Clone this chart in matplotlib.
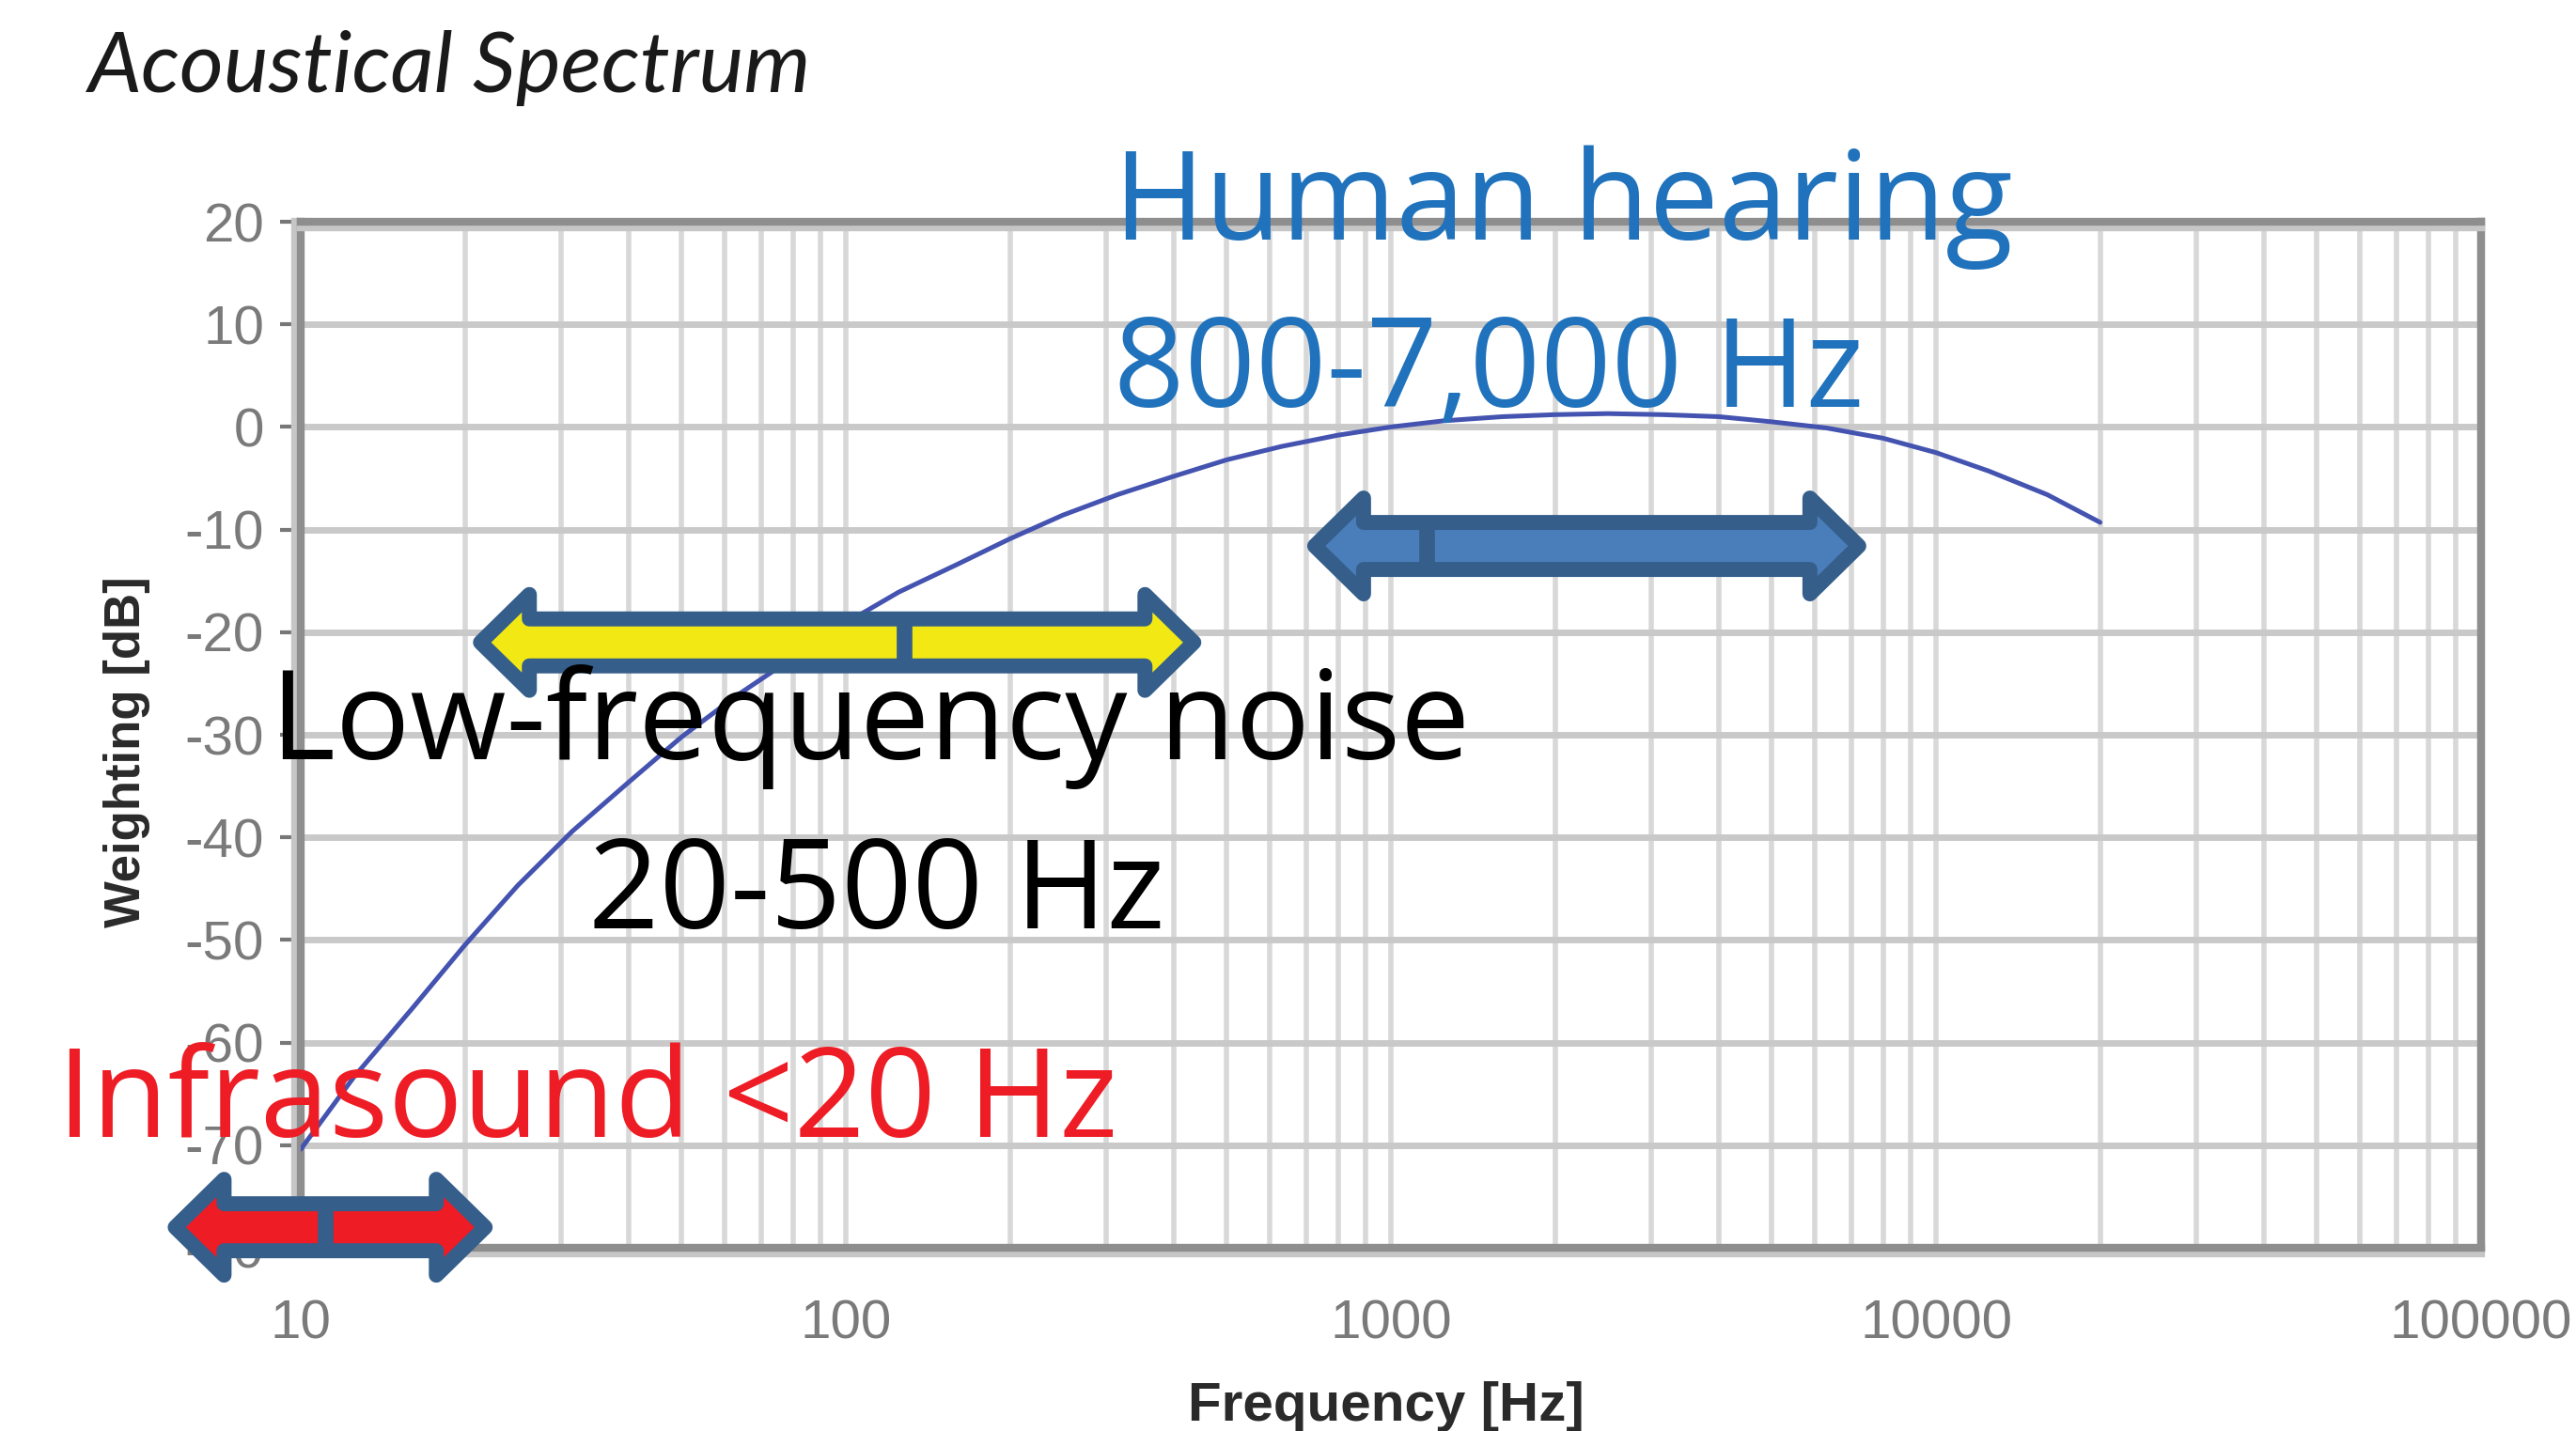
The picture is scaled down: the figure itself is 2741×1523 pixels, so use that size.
import matplotlib
matplotlib.use("Agg")
import matplotlib.pyplot as plt
import matplotlib.patheffects as pe
import numpy as np
from matplotlib.patches import Polygon
from matplotlib.ticker import FixedLocator, LogLocator, NullFormatter

# ---------------- data ----------------
freq_hz = [10, 12.5, 16, 20, 25, 31.5, 40, 50, 63, 80, 100, 125, 160, 200, 250,
           315, 400, 500, 630, 800, 1000, 1250, 1600, 2000, 2500, 3150, 4000,
           5000, 6300, 8000, 10000, 12500, 16000, 20000]
weighting_db = [-70.4, -63.4, -56.7, -50.5, -44.7, -39.4, -34.6, -30.2, -26.2,
                -22.5, -19.1, -16.1, -13.4, -10.9, -8.6, -6.6, -4.8, -3.2, -1.9,
                -0.8, 0.0, 0.6, 1.0, 1.2, 1.3, 1.2, 1.0, 0.5, -0.1, -1.1, -2.5,
                -4.3, -6.6, -9.3]

y_ticks = [20, 10, 0, -10, -20, -30, -40, -50, -60, -70, -80]
x_ticks = [10, 100, 1000, 10000, 100000]
x_tick_labels = ["10", "100", "1000", "10000", "100000"]

band_names = ["Infrasound", "Low-frequency noise", "Human hearing"]
band_start_hz = [5.7, 20.7, 702]
band_end_hz = [22.5, 449, 7450]
band_split_hz = [11.1, 128, 1163]
band_level_db = [-78.0, -21.0, -11.6]
band_fill = ["#ee1c24", "#f2e914", "#4a7ebb"]
band_edge = "#355e8a"

title_text = "Acoustical Spectrum"
x_label = "Frequency [Hz]"
y_label = "Weighting [dB]"
annot_texts = ["Human hearing", "800-7,000 Hz", "Low-frequency noise",
               "20-500 Hz", "Infrasound <20 Hz"]

# ---------------- figure ----------------
W, H = 2741, 1523
fig = plt.figure(figsize=(W / 100, H / 100), dpi=100)
fig.patch.set_facecolor("white")

ax_l, ax_r, ax_t, ax_b = 320, 2640, 236, 1328
ax = fig.add_axes([ax_l / W, 1 - ax_b / H, (ax_r - ax_l) / W, (ax_b - ax_t) / H])
ax.set_xscale("log")
ax.set_xlim(10, 100000)
ax.set_ylim(-80, 20)
ax.set_axisbelow(True)

# grid
ax.xaxis.set_major_locator(FixedLocator(x_ticks))
ax.xaxis.set_minor_locator(LogLocator(base=10, subs=np.arange(2, 10)))
ax.xaxis.set_minor_formatter(NullFormatter())
ax.set_xticks(x_ticks)
ax.set_xticklabels(x_tick_labels)
ax.set_yticks(y_ticks)
ax.set_yticklabels([str(v) for v in y_ticks])
ax.grid(which="both", axis="x", color="#d8d8d8", lw=4)
ax.grid(which="major", axis="y", color="#c9c9c9", lw=5)

for lab in ax.get_xticklabels() + ax.get_yticklabels():
    lab.set_fontfamily("Liberation Sans")
    lab.set_fontsize(42)
    lab.set_color("#7a7a7a")
ax.tick_params(axis="x", which="major", direction="out", length=7, width=3,
               color="#777777", pad=32)
ax.tick_params(axis="x", which="minor", direction="out", length=3, width=2,
               color="#999999")
ax.tick_params(axis="y", which="major", direction="out", length=16, width=3,
               color="#777777", pad=12)

shadow = {"left": (-4.5, 0), "bottom": (0, -4.5), "top": (0, -4.5), "right": (0, 0)}
for side, sp in ax.spines.items():
    sp.set_color("#8e8e8e")
    sp.set_linewidth(6)
    sp.set_path_effects([pe.Stroke(linewidth=6, foreground="#c6c6c6", offset=shadow[side]),
                         pe.Normal()])

# curve
ax.plot(freq_hz, weighting_db, color="#4453b0", lw=3.6, zorder=3,
        solid_capstyle="round", solid_joinstyle="round")

# double-headed band arrows
PX_DEC = (ax_r - ax_l) / 4.0
PX_DB = (ax_b - ax_t) / 100.0


def arrow_vertices(x0, x1, y):
    tip_in = 8 / PX_DEC
    head = 52 / PX_DEC
    bh = 25 / PX_DB
    hh = 51 / PX_DB
    a = np.log10(x0) + tip_in
    b = np.log10(x1) - tip_in
    pts = [(a, y), (a + head, y + hh), (a + head, y + bh), (b - head, y + bh),
           (b - head, y + hh), (b, y), (b - head, y - hh), (b - head, y - bh),
           (a + head, y - bh), (a + head, y - hh)]
    return [(10 ** px, py) for px, py in pts], bh


for x0, x1, xm, y, fc in zip(band_start_hz, band_end_hz, band_split_hz,
                             band_level_db, band_fill):
    verts, bh = arrow_vertices(x0, x1, y)
    poly = Polygon(verts, closed=True, facecolor=fc, edgecolor=band_edge,
                   lw=11.5, joinstyle="round", zorder=6, clip_on=False)
    ax.add_patch(poly)
    ax.plot([xm, xm], [y - bh, y + bh], color=band_edge, lw=12,
            solid_capstyle="butt", zorder=7, clip_on=False)

# ---------------- texts ----------------
def fx(px):
    return px / W


def fy(py):
    return 1 - py / H


fig.text(fx(94), fy(98), title_text, family="Lato", style="italic",
         fontsize=65, color="#1a1a1a", va="baseline", ha="left")

fig.text(fx(1475), fy(1512), x_label, family="Liberation Sans", weight="bold",
         fontsize=42, color="#2a2a2a", ha="center", va="baseline")
fig.text(fx(135), fy(800), y_label, family="Liberation Sans", weight="bold",
         fontsize=38, color="#2a2a2a", ha="center", va="center", rotation=90)

annot_x = [1185, 1185, 288, 626, 61]
annot_y = [255, 433, 808, 988, 1210]
annot_c = ["#1f72bb", "#1f72bb", "#000000", "#000000", "#ee1c25"]
for t, x, y, c in zip(annot_texts, annot_x, annot_y, annot_c):
    fig.text(fx(x), fy(y), t, family="Open Sans", fontsize=95, color=c,
             ha="left", va="baseline", zorder=10)

fig.savefig("out.png", dpi=100, facecolor="white")
